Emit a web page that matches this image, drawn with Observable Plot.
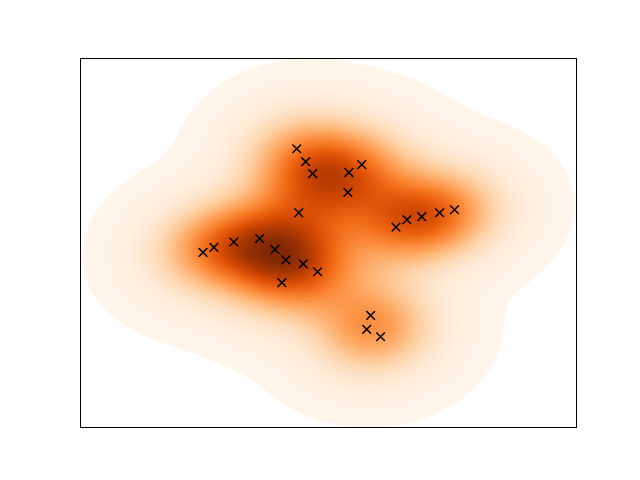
<!DOCTYPE html>
<html><head><meta charset="utf-8">
<script src="https://cdn.jsdelivr.net/npm/d3@7"></script>
<script src="https://cdn.jsdelivr.net/npm/@observablehq/plot@0.6"></script>
<style>body{margin:0;background:#fff;font-family:"DejaVu Sans",sans-serif}svg{display:block}</style>
</head><body><div id="chart"></div>
<script>
// Sample points (data units)
const xs = [4.36, 4.54, 4.68, 5.41, 5.67, 5.39, 4.40, 2.47, 2.69, 3.09, 3.61, 3.92, 4.14, 4.49, 4.78, 4.06, 6.36, 6.58, 6.88, 7.24, 7.54, 5.85, 5.77, 6.05];
const ys = [5.62, 5.36, 5.12, 5.14, 5.30, 4.74, 4.33, 3.53, 3.63, 3.74, 3.81, 3.59, 3.38, 3.30, 3.14, 2.92, 4.04, 4.19, 4.25, 4.33, 4.39, 2.26, 1.98, 1.83];
const xDomain = [0, 10];
const yDomain = [0, 7.44];
const massThreshold = 0.001;

const points = xs.map((x, i) => ({x, y: ys[i]}));

// Gaussian KDE with Scott's rule (full covariance)
const n = xs.length;
const mx = d3.mean(xs), my = d3.mean(ys);
const sxx = d3.variance(xs), syy = d3.variance(ys);
const sxy = d3.sum(xs, (x, i) => (x - mx) * (ys[i] - my)) / (n - 1);
const fac = Math.pow(n, -1 / 6);
const hxx = sxx * fac * fac, hyy = syy * fac * fac, hxy = sxy * fac * fac;
const det = hxx * hyy - hxy * hxy;
const ixx = hyy / det, iyy = hxx / det, ixy = -hxy / det;
function density(x, y) {
  let s = 0;
  for (let i = 0; i < n; i++) {
    const dx = x - xs[i], dy = y - ys[i];
    s += Math.exp(-0.5 * (ixx * dx * dx + 2 * ixy * dx * dy + iyy * dy * dy));
  }
  return s;
}
// threshold: given fraction of probability mass below
const bwx = Math.sqrt(sxx) * fac, bwy = Math.sqrt(syy) * fac;
const gx0 = d3.min(xs) - 3 * bwx, gx1 = d3.max(xs) + 3 * bwx;
const gy0 = d3.min(ys) - 3 * bwy, gy1 = d3.max(ys) + 3 * bwy;
const G = 200, vals = [];
for (let i = 0; i < G; i++) for (let j = 0; j < G; j++) {
  vals.push(density(gx0 + (gx1 - gx0) * i / (G - 1), gy0 + (gy1 - gy0) * j / (G - 1)));
}
vals.sort((a, b) => b - a);
const total = d3.sum(vals);
let cum = 0, thr = vals[vals.length - 1];
for (const v of vals) { cum += v; if (cum / total >= 1 - massThreshold) { thr = v; break; } }
const vmax = vals[0];

const chart = Plot.plot({
  width: 640, height: 480,
  marginLeft: 80, marginRight: 64, marginTop: 58, marginBottom: 53,
  x: {domain: xDomain, axis: null},
  y: {domain: yDomain, axis: null},
  color: {type: "linear", scheme: "oranges", domain: [thr, vmax]},
  marks: [
    Plot.raster({
      fill: (x, y) => { const v = density(x, y); return v >= thr ? v : NaN; },
      x1: xDomain[0], x2: xDomain[1], y1: yDomain[0], y2: yDomain[1]
    }),
    Plot.dot(points, {x: "x", y: "y", symbol: "times", r: 4, stroke: "black", strokeWidth: 1.5}),
    Plot.frame({stroke: "black", strokeWidth: 1})
  ]
});
document.getElementById("chart").appendChild(chart);
</script>
</body></html>
